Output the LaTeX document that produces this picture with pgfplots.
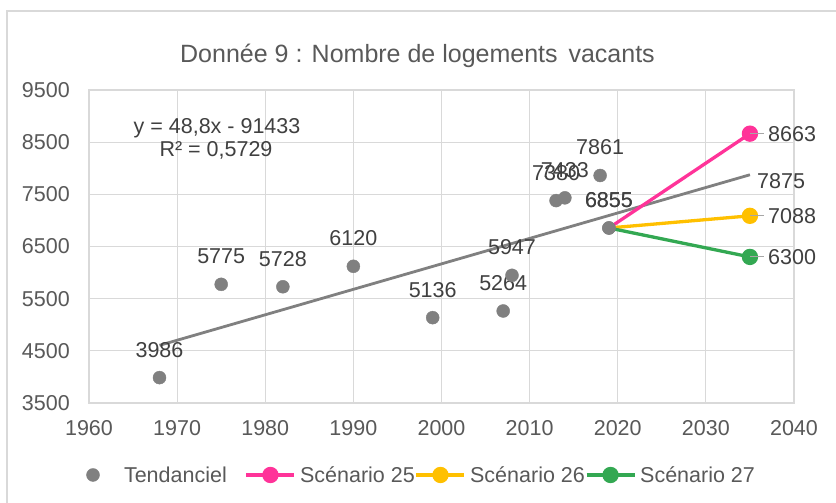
\documentclass[border=0pt]{standalone}
\usepackage{pgfplots}
\pgfplotsset{compat=1.18}
\usepackage{fontspec}
\setmainfont{Liberation Sans}
\definecolor{tgray}{HTML}{808080}
\definecolor{txt}{HTML}{595959}
\definecolor{lbl}{HTML}{404040}
\definecolor{gridc}{HTML}{D9D9D9}
\definecolor{pinkc}{HTML}{FF3399}
\definecolor{goldc}{HTML}{FFC000}
\definecolor{greenc}{HTML}{33A852}
\definecolor{leadc}{HTML}{A6A6A6}
\newcommand{\fs}{\fontsize{21.5bp}{25bp}\selectfont}
\begin{document}
\begin{tikzpicture}
\useasboundingbox (0,0) rectangle (836bp,503bp);
\fill[white] (0,0) rectangle (836bp,503bp);
\draw[gridc, line width=1.5bp] (7bp,0) -- (7bp,492bp) -- (836bp,492bp);
\node[anchor=base, text=txt, font=\fontsize{25bp}{30bp}\selectfont, inner sep=0pt] at (417.5bp,440bp) {Donnée 9 : Nombre de logements\hspace{4bp} vacants};
\begin{axis}[
  at={(89bp,100bp)}, anchor=south west, scale only axis,
  width=705bp, height=313bp,
  xmin=1960, xmax=2040, ymin=3500, ymax=9500,
  xtick={1960,1970,...,2040}, ytick={3500,4500,...,9500},
  grid=major, grid style={gridc, line width=1.2bp},
  axis line style={gridc, line width=1.2bp},
  tick style={draw=none}, major tick length=0pt,
  ticklabel style={font=\fs, text=txt, inner sep=0pt},
  xticklabel style={anchor=north, yshift=-17.5bp},
  yticklabel style={anchor=east, xshift=-19bp},
  /pgf/number format/assume math mode=true,
  /pgf/number format/set thousands separator={},
  clip=false,
  legend columns=4,
  legend cell align=left,
  legend style={draw=none, fill=none, at={(-0.02837,-0.2300)}, anchor=west,
    inner sep=0pt, outer sep=0pt, column sep=0pt,
    nodes={inner sep=0pt, text=txt, font=\fs},
    /tikz/every odd column/.append style={column sep=4bp},
    /tikz/every even column/.append style={column sep=0bp}},
]
% trend line
\addplot[forget plot, tgray, line width=2.8bp] coordinates {(1968,4605.4) (2035,7875)};
\addplot[forget plot, draw=none, point meta=explicit symbolic, nodes near coords,
  every node near coord/.append style={anchor=west, inner sep=0pt, font=\fs, text=lbl, xshift=7bp, yshift=-6bp}]
  coordinates {(2035,7875)[7875]};
% Tendanciel
\addplot[only marks, mark=*, mark size=6.5bp, mark options={fill=tgray, draw=tgray},
  point meta=explicit symbolic, nodes near coords,
  every node near coord/.append style={anchor=base, inner sep=0pt, font=\fs, text=lbl, yshift=20.5bp},
  legend image code/.code={\path[draw=none] (0bp,0bp) -- (48bp,0bp); \fill[tgray] (24bp,0bp) circle (6.5bp);}]
  coordinates {(1968,3986)[3986] (1975,5775)[5775] (1982,5728)[5728] (1990,6120)[6120]
    (1999,5136)[5136] (2007,5264)[5264] (2008,5947)[5947] (2013,7380)[7380]
    (2014,7433)[7433] (2018,7861)[7861] (2019,6855)[6855]};
\addlegendentry{\kern3bp Tendanciel\kern18bp}
% scenarios
\addplot[pinkc, line width=3.3bp, mark=*, mark size=6.5bp, mark indices={2}, mark options={fill=pinkc, draw=pinkc},
  legend image code/.code={\draw[pinkc, line width=3.3bp] (0bp,0bp) -- (48bp,0bp); \fill[pinkc] (24bp,0bp) circle (6.5bp);}]
  coordinates {(2019,6855) (2035,8663)};
\addlegendentry{Scénario 25}
\addplot[goldc, line width=3.3bp, mark=*, mark size=6.5bp, mark indices={2}, mark options={fill=goldc, draw=goldc},
  legend image code/.code={\draw[goldc, line width=3.3bp] (0bp,0bp) -- (48bp,0bp); \fill[goldc] (24bp,0bp) circle (6.5bp);}]
  coordinates {(2019,6855) (2035,7088)};
\addlegendentry{Scénario 26}
\addplot[greenc, line width=3.3bp, mark=*, mark size=6.5bp, mark indices={2}, mark options={fill=greenc, draw=greenc},
  legend image code/.code={\draw[greenc, line width=3.3bp] (0bp,0bp) -- (48bp,0bp); \fill[greenc] (24bp,0bp) circle (6.5bp);}]
  coordinates {(2019,6855) (2035,6300)};
\addlegendentry{Scénario 27}
% end labels with leader lines
\addplot[forget plot, draw=none, point meta=explicit symbolic,
  nodes near coords={\textcolor{leadc}{\rule[6.85bp]{14bp}{1.3bp}}\hspace{4bp}\pgfplotspointmeta},
  every node near coord/.append style={anchor=west, inner sep=0pt, font=\fs, text=lbl}]
  coordinates {(2035,8663)[8663] (2035,7088)[7088] (2035,6300)[6300]};
% start point redrawn on top, with the doubled label
\addplot[forget plot, only marks, mark=*, mark size=6.5bp, mark options={fill=tgray, draw=tgray},
  point meta=explicit symbolic, nodes near coords,
  every node near coord/.append style={anchor=base, inner sep=0pt, font=\fs, text=lbl, yshift=20.5bp}]
  coordinates {(2019,6855)[6855]};
\end{axis}
\node[anchor=base, inner sep=0pt, font=\fs, text=lbl] at (217bp,369.5bp) {y = 48,8x - 91433};
\node[anchor=base, inner sep=0pt, font=\fs, text=lbl] at (216bp,346.5bp) {R² = 0,5729};
\end{tikzpicture}
\end{document}
